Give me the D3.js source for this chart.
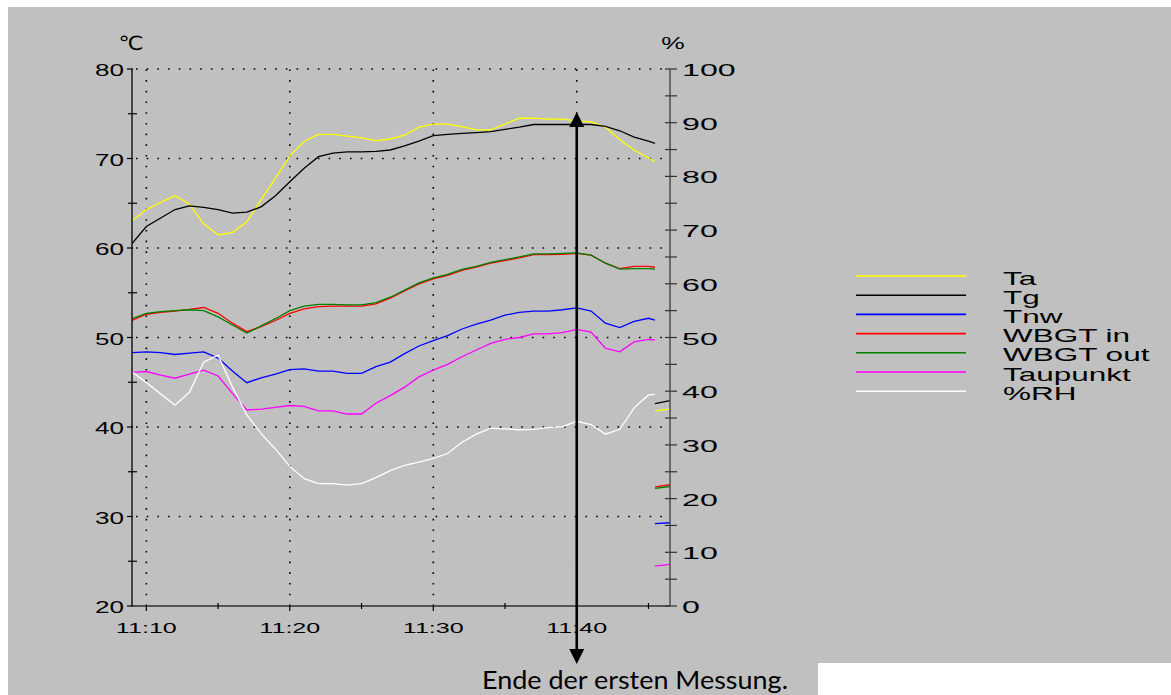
<!DOCTYPE html>
<html><head><meta charset="utf-8">
<script src="https://cdn.jsdelivr.net/npm/d3@7"></script>
<style>
html,body{margin:0;padding:0;background:#fff;}
svg{display:block;}
text{font-family:"Liberation Sans",Arial,sans-serif;fill:#000;}
</style></head>
<body>
<svg id="chart" width="1171" height="695"></svg>
<script>
// ---- data (minutes after 11:00) ----
const minutes = [9,10,11,12,13,14,15,16,17,18,19,20,21,22,23,24,25,26,27,28,29,30,31,32,33,34,35,36,37,38,39,40,41,42,43,44,45,45.45];
const ta = [63.05,64.3,65.1,65.85,64.9,62.7,61.45,61.75,62.9,65.4,67.8,70.3,71.9,72.7,72.7,72.5,72.3,72.0,72.18,72.6,73.5,73.85,73.85,73.55,73.2,73.2,73.85,74.5,74.5,74.4,74.4,74.2,74.1,73.5,72.1,70.95,70.05,69.64];
const tg = [60.5,62.4,63.35,64.3,64.7,64.55,64.3,63.9,64.0,64.6,65.85,67.4,68.9,70.2,70.6,70.75,70.75,70.8,70.95,71.4,71.95,72.55,72.7,72.8,72.9,73.0,73.25,73.5,73.8,73.8,73.8,73.8,73.8,73.6,73.1,72.4,71.95,71.7];
const tnw = [48.3,48.4,48.3,48.1,48.25,48.4,47.7,46.25,44.95,45.5,45.9,46.4,46.5,46.25,46.25,46.0,46.0,46.75,47.25,48.2,49.05,49.65,50.2,50.95,51.5,51.95,52.5,52.8,52.95,52.95,53.1,53.3,52.95,51.6,51.1,51.8,52.15,51.95];
const wbgtIn = [51.9,52.6,52.8,52.95,53.15,53.35,52.7,51.6,50.65,51.2,51.9,52.7,53.2,53.45,53.5,53.5,53.5,53.75,54.4,55.2,56.0,56.55,56.95,57.5,57.85,58.3,58.6,58.9,59.25,59.25,59.3,59.4,59.2,58.3,57.7,57.95,57.95,57.85];
const wbgtOut = [52.1,52.7,52.9,53.0,53.1,53.0,52.3,51.4,50.5,51.3,52.1,53.0,53.5,53.7,53.7,53.65,53.65,53.9,54.5,55.3,56.1,56.65,57.05,57.6,57.95,58.4,58.7,59.0,59.35,59.35,59.4,59.45,59.2,58.3,57.65,57.7,57.7,57.65];
const taupunkt = [46.1,46.2,45.8,45.45,45.9,46.35,45.7,43.75,41.9,42.0,42.2,42.4,42.3,41.8,41.8,41.45,41.45,42.65,43.5,44.45,45.6,46.35,47.0,47.85,48.6,49.35,49.8,50.0,50.4,50.4,50.55,50.9,50.6,48.8,48.4,49.5,49.8,49.7];
const rh = [43.6,41.6,39.5,37.4,39.8,45.4,46.7,40.8,35.6,32.1,29.2,26.0,23.7,22.8,22.8,22.5,22.8,23.9,25.2,26.2,26.8,27.5,28.4,30.5,32.0,33.1,33.0,32.8,32.9,33.2,33.4,34.4,33.8,32.0,32.9,36.9,39.3,39.4];
// start of the second measurement (visible at the right edge)
const nextMinutes = [45.45,46.5];
const taNext = [41.8,42.0];
const tgNext = [42.6,42.95];
const tnwNext = [29.2,29.3];
const wbgtInNext = [33.3,33.55];
const wbgtOutNext = [33.15,33.35];
const taupunktNext = [24.45,24.65];

const seriesNames = ["Ta","Tg","Tnw","WBGT in","WBGT out","Taupunkt","%RH"];
const seriesColors = ["#ffff00","#000000","#0000ff","#ff0000","#008000","#ff00ff","#ffffff"];
const leftTicks = [20,30,40,50,60,70,80];
const leftMinor = [25,35,45,55,65,75];
const rightTicks = [0,10,20,30,40,50,60,70,80,90,100];
const xTickMinutes = [10,20,30,40];
const xTickLabels = ["11:10","11:20","11:30","11:40"];
const xMinorMinutes = [15,25,35,45];
const markerMinute = 40;
const annotationText = "Ende der ersten Messung.";

// ---- scales ----
const svg = d3.select("#chart");
const x = d3.scaleLinear().domain([9,46.5]).range([132,670]);
const yL = d3.scaleLinear().domain([20,80]).range([606,69]);
const yR = d3.scaleLinear().domain([0,100]).range([606,69]);

// background
svg.append("rect").attr("x",0).attr("y",0).attr("width",1171).attr("height",695).attr("fill","#fff");
svg.append("rect").attr("x",8).attr("y",7).attr("width",1163).attr("height",688).attr("fill","#c0c0c0");
svg.append("rect").attr("x",818).attr("y",663).attr("width",353).attr("height",32).attr("fill","#fff");

// grid
const grid = svg.append("g").attr("stroke","#000").attr("stroke-width",1.6).attr("stroke-dasharray","1.6,9.1");
grid.selectAll("line.h").data(leftTicks.filter(d=>d>20)).join("line")
  .attr("x1",x(9)+4).attr("x2",x(46.1)).attr("y1",d=>yL(d)).attr("y2",d=>yL(d));
grid.selectAll("line.v").data(xTickMinutes).join("line")
  .attr("x1",d=>x(d)).attr("x2",d=>x(d)).attr("y1",yL(20)).attr("y2",yL(80));

// clip
svg.append("clipPath").attr("id","plot").append("rect")
  .attr("x",x(9)).attr("y",yL(80)-5).attr("width",x(46.5)-x(9)).attr("height",yL(20)-yL(80)+5);

const lineL = d3.line().x(d=>x(d[0])).y(d=>yL(d[1]));
const lineR = d3.line().x(d=>x(d[0])).y(d=>yR(d[1]));
const zip = (t,v)=>t.map((m,i)=>[m,v[i]]);
const plot = svg.append("g").attr("clip-path","url(#plot)").attr("fill","none").attr("stroke-width",1.3);
const mainData = [ta,tg,tnw,wbgtIn,wbgtOut,taupunkt];
const nextData = [taNext,tgNext,tnwNext,wbgtInNext,wbgtOutNext,taupunktNext];
mainData.forEach((s,i)=>{
  plot.append("path").attr("d",lineL(zip(minutes,s))).attr("stroke",seriesColors[i]);
  plot.append("path").attr("d",lineL(zip(nextMinutes,nextData[i]))).attr("stroke",seriesColors[i]);
});
plot.append("path").attr("d",lineR(zip(minutes,rh))).attr("stroke",seriesColors[6]);

// axes
const ax = svg.append("g");
ax.append("line").attr("x1",x(9)).attr("x2",x(9)).attr("y1",yL(80)).attr("y2",yL(20)).attr("stroke","#000").attr("stroke-width",1.3);
ax.append("line").attr("x1",x(46.5)).attr("x2",x(46.5)).attr("y1",yR(100)).attr("y2",yR(0)).attr("stroke","#555").attr("stroke-width",1.6);
ax.append("line").attr("x1",x(9)).attr("x2",x(46.5)).attr("y1",yL(20)).attr("y2",yL(20)).attr("stroke","#333").attr("stroke-width",1.3);
ax.selectAll("line.lt").data(leftTicks).join("line").attr("x1",x(9)-5).attr("x2",x(9)+1).attr("y1",d=>yL(d)).attr("y2",d=>yL(d)).attr("stroke","#000").attr("stroke-width",1.2);
ax.selectAll("line.lm").data(leftMinor).join("line").attr("x1",x(9)-4).attr("x2",x(9)+5).attr("y1",d=>yL(d)).attr("y2",d=>yL(d)).attr("stroke","#000").attr("stroke-width",1.2);
ax.selectAll("line.rt").data(d3.range(0,101,5)).join("line").attr("x1",x(46.5)-5).attr("x2",x(46.5)+7).attr("y1",d=>yR(d)).attr("y2",d=>yR(d)).attr("stroke","#333").attr("stroke-width",1.2);
ax.selectAll("line.xt").data(xTickMinutes).join("line").attr("x1",d=>x(d)).attr("x2",d=>x(d)).attr("y1",yL(20)).attr("y2",yL(20)+5).attr("stroke","#000").attr("stroke-width",1.2);
ax.selectAll("line.xm").data(xMinorMinutes).join("line").attr("x1",d=>x(d)).attr("x2",d=>x(d)).attr("y1",yL(20)-3).attr("y2",yL(20)+3).attr("stroke","#000").attr("stroke-width",1.2);

// tick labels (wide, stretched sans)
ax.selectAll("text.l").data(leftTicks).join("text")
  .attr("transform",d=>`translate(${x(9)-8},${yL(d)+7}) scale(1.65,1)`)
  .attr("text-anchor","end").attr("font-size",15.8).text(d=>d);
ax.selectAll("text.r").data(rightTicks).join("text")
  .attr("transform",d=>`translate(${x(46.5)+12},${yR(d)+7}) scale(1.95,1)`)
  .attr("text-anchor","start").attr("font-size",16.5).text(d=>d);
ax.selectAll("text.x").data(xTickMinutes).join("text")
  .attr("transform",(d,i)=>`translate(${x(d)},${yL(20)+27}) scale(1.62,1)`)
  .attr("text-anchor","middle").attr("font-size",15.5).text((d,i)=>xTickLabels[i]);
svg.append("text").attr("transform",`translate(${x(9)-1},50) scale(1.15,1)`).attr("text-anchor","middle").attr("font-size",19.5)
  .style("font-family","'DejaVu Sans',sans-serif").text("\u2103");
svg.append("text").attr("transform",`translate(${x(46.5)+3},49) scale(1.6,1)`).attr("text-anchor","middle").attr("font-size",16.5).text("%");

// legend
const lg = svg.append("g");
seriesNames.forEach((n,i)=>{
  const yy = 276 + i*19.2;
  lg.append("line").attr("x1",856).attr("x2",966).attr("y1",yy).attr("y2",yy).attr("stroke",seriesColors[i]).attr("stroke-width",1.6);
  lg.append("text").attr("transform",`translate(1003,${yy+8.5}) scale(1.8,1)`).attr("font-size",17.5).text(n);
});

// annotation arrow
const ann = svg.append("g");
const ax0 = x(markerMinute);
ann.append("line").attr("x1",ax0).attr("x2",ax0).attr("y1",124).attr("y2",652).attr("stroke","#000").attr("stroke-width",2.6);
ann.append("path").attr("d",`M${ax0},112 L${ax0-7.5},127 L${ax0+7.5},127 Z`).attr("fill","#000");
ann.append("path").attr("d",`M${ax0},664 L${ax0-7.5},649 L${ax0+7.5},649 Z`).attr("fill","#000");
ann.append("text").attr("x",482).attr("y",689).attr("font-size",24.5)
  .attr("textLength",306).attr("lengthAdjust","spacingAndGlyphs")
  .style("font-family","Lato,'Open Sans',sans-serif").text(annotationText);
</script>
</body></html>
